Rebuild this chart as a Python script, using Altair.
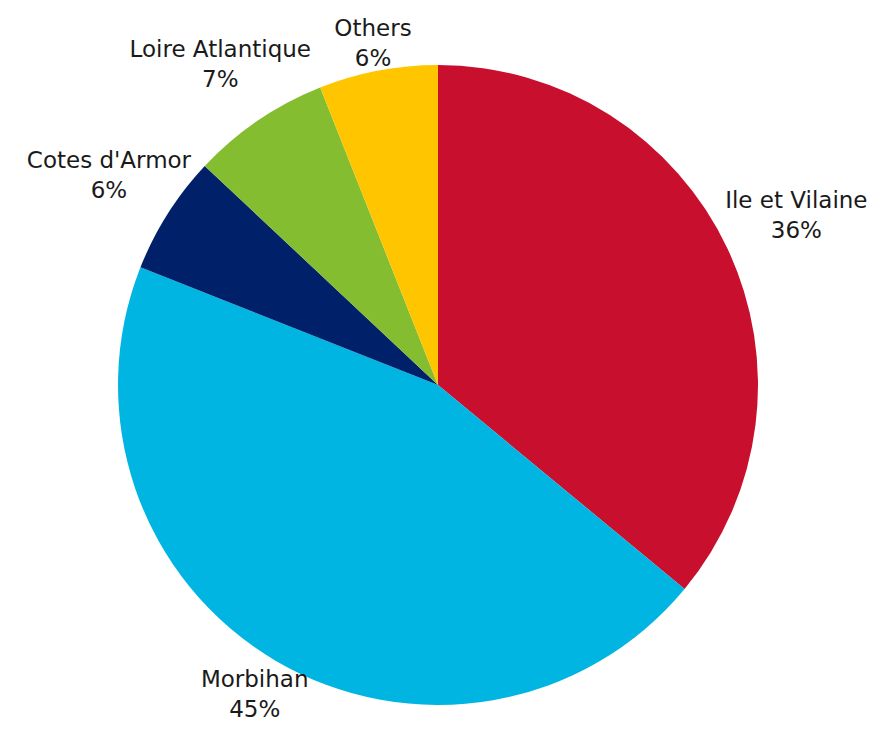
import math
import altair as alt
import pandas as pd

categories = ["Ile et Vilaine", "Morbihan", "Cotes d'Armor", "Loire Atlantique", "Others"]
shares = [36, 45, 6, 7, 6]
colors = ["#C8102E", "#00B5E2", "#002169", "#84BD2F", "#FFC600"]

df = pd.DataFrame({
    "category": categories,
    "share": shares,
    "idx": list(range(len(categories))),
})
df["pct"] = [f"{s}%" for s in shares]

# label layout rule: push each two-line label box just outside the pie,
# its centre distance = base radius + radial half-extent of the box
R_PIE = 320
R_BASE = 310
FONT_SIZE = 23
CHAR_W = 11.5
BOX_H = 62
total = sum(shares)
cum = 0
lr = []
for c, s in zip(categories, shares):
    mid = 2 * math.pi * (cum + s / 2) / total
    cum += s
    half_w = len(c) * CHAR_W / 2
    lr.append(R_BASE + abs(math.sin(mid)) * half_w + abs(math.cos(mid)) * BOX_H / 2)
df["lr"] = lr

cx, cy = 430, 377

pie = alt.Chart(df).mark_arc(outerRadius=R_PIE).encode(
    theta=alt.Theta("share:Q", stack=True),
    order=alt.Order("idx:Q"),
    x=alt.value(cx),
    y=alt.value(cy),
    color=alt.Color("category:N", scale=alt.Scale(domain=categories, range=colors), legend=None),
)

lab = alt.Chart(df).transform_window(
    cum_end="sum(share)", sort=[alt.SortField("idx")], frame=[None, 0]
).transform_calculate(
    mid="datum.cum_end - datum.share / 2"
).encode(
    theta=alt.Theta("mid:Q", stack=None, scale=alt.Scale(domain=[0, total], range=[0, 2 * math.pi])),
    radius=alt.Radius("lr:Q", scale=None),
    x=alt.value(cx),
    y=alt.value(cy),
)

name_txt = lab.mark_text(
    fontSize=FONT_SIZE, font="DejaVu Sans", color="#1a1a1a", baseline="middle", align="center", dy=-15
).encode(text="category:N")

pct_txt = lab.mark_text(
    fontSize=FONT_SIZE, font="DejaVu Sans", color="#1a1a1a", baseline="middle", align="center", dy=15
).encode(text="pct:N")

chart = (pie + name_txt + pct_txt).properties(
    width=861, height=726, padding=0, autosize="none"
).configure_view(stroke=None)

chart.save("out.html", embed_options={"renderer": "svg", "actions": False})
